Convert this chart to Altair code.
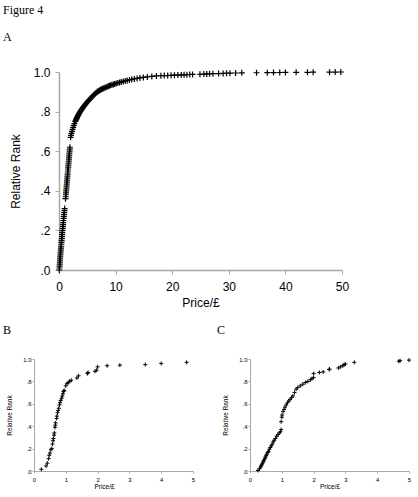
import altair as alt
import pandas as pd

SANS = "Liberation Sans"
SERIF = "Liberation Serif"
AXIS_GREY = "#a8a8a8"
PLUS = "M-1,0L1,0M0,-1L0,1"

panel_labels = ["Figure 4", "A", "B", "C"]
x_title = "Price/£"
y_title = "Relative Rank"

# Panel A: price of every item against its relative rank
a_price = [
    0.05, 0.08, 0.10, 0.13, 0.15, 0.18, 0.20, 0.23, 0.26, 0.29, 0.32,
    0.35, 0.38, 0.41, 0.44, 0.47, 0.50, 0.53, 0.56, 0.59, 0.62,
    0.66, 0.69, 0.72, 0.75, 0.79, 0.82, 0.85, 0.89, 0.93, 0.97, 1.00,
    1.15, 1.18, 1.21, 1.24, 1.27, 1.30, 1.33, 1.36, 1.39, 1.42,
    1.45, 1.48, 1.51, 1.54, 1.57, 1.60, 1.63, 1.66, 1.69, 1.72,
    1.75, 1.78, 1.81, 1.84, 1.87, 1.90, 1.93,
    2.05, 2.12, 2.20, 2.30, 2.40, 2.50, 2.62, 2.75, 2.88,
    2.95, 3.02, 3.10, 3.18, 3.26, 3.35, 3.44, 3.54, 3.64, 3.75,
    3.86, 3.98, 4.10, 4.22, 4.35, 4.48, 4.62, 4.76, 4.90, 5.05,
    5.20, 5.36, 5.52, 5.68, 5.85, 6.02, 6.20, 6.38, 6.56, 6.75,
    6.90, 7.05, 7.20, 7.35, 7.50, 7.70, 7.90, 8.10, 8.30, 8.50,
    8.70, 8.90, 9.10, 9.35, 9.60, 9.85, 10.10, 10.40, 10.70, 11.00,
    11.35, 11.70, 12.05, 12.45, 12.85, 13.30, 13.80, 14.30, 14.90, 15.60,
    16.40, 17.20,
    18.0, 18.6, 19.2, 19.8, 20.4, 21.0, 21.6, 22.1, 22.6, 23.1, 23.6,
    24.9, 25.6, 26.1, 26.6, 27.2, 28.2, 29.0, 29.6, 30.2, 31.2, 32.3,
    34.9, 36.8, 37.9, 39.0, 40.0, 41.9, 43.9, 44.9, 47.8, 48.8, 49.8,
]
a_rank = [
    0.00, 0.01, 0.02, 0.03, 0.04, 0.05, 0.06, 0.07, 0.08, 0.09, 0.10,
    0.11, 0.12, 0.13, 0.14, 0.15, 0.16, 0.17, 0.18, 0.19, 0.20,
    0.21, 0.22, 0.23, 0.24, 0.25, 0.26, 0.27, 0.28, 0.29, 0.30, 0.31,
    0.36, 0.37, 0.38, 0.39, 0.40, 0.41, 0.42, 0.43, 0.44, 0.45,
    0.46, 0.47, 0.48, 0.49, 0.50, 0.51, 0.52, 0.53, 0.54, 0.55,
    0.56, 0.57, 0.58, 0.59, 0.60, 0.61, 0.62,
    0.67, 0.68, 0.69, 0.70, 0.71, 0.72, 0.73, 0.74, 0.75,
    0.755, 0.760, 0.765, 0.770, 0.775, 0.780, 0.785, 0.790, 0.795, 0.800,
    0.805, 0.810, 0.815, 0.820, 0.825, 0.830, 0.835, 0.840, 0.845, 0.850,
    0.855, 0.860, 0.865, 0.870, 0.875, 0.880, 0.885, 0.890, 0.895, 0.900,
    0.9025, 0.905, 0.9075, 0.910, 0.9125, 0.915, 0.9175, 0.920, 0.9225, 0.925,
    0.9275, 0.930, 0.9325, 0.935, 0.9375, 0.940, 0.9425, 0.945, 0.9475, 0.950,
    0.9525, 0.955, 0.9575, 0.960, 0.9625, 0.965, 0.9675, 0.970, 0.9725, 0.975,
    0.9775, 0.980,
    0.9810, 0.9817, 0.9824, 0.9831, 0.9838, 0.9845, 0.9852, 0.9859, 0.9866, 0.9873, 0.9880,
    0.9887, 0.9894, 0.9901, 0.9908, 0.9915, 0.9922, 0.9929, 0.9936, 0.9943, 0.9950, 0.9957,
    0.9962, 0.9966, 0.9970, 0.9974, 0.9978, 0.9982, 0.9986, 0.9990, 0.9993, 0.9996, 1.0000,
]

# Panel B
b_price = [
    0.23, 0.38, 0.42, 0.46, 0.48, 0.50, 0.53, 0.56, 0.58, 0.60,
    0.61, 0.63, 0.64, 0.66, 0.67, 0.68, 0.71, 0.72, 0.74, 0.76,
    0.78, 0.80, 0.82, 0.84, 0.87, 0.89, 0.91, 0.93, 0.95, 1.00,
    1.04, 1.08, 1.12, 1.17, 1.35, 1.40, 1.68, 1.70, 1.92, 1.97,
    2.00, 2.30, 2.70, 3.50, 4.00, 4.80,
]
b_rank = [
    0.015, 0.045, 0.07, 0.11, 0.14, 0.16, 0.19, 0.20, 0.24, 0.27,
    0.29, 0.32, 0.34, 0.39, 0.41, 0.43, 0.47, 0.49, 0.52, 0.54,
    0.56, 0.59, 0.61, 0.63, 0.65, 0.67, 0.69, 0.71, 0.72, 0.76,
    0.78, 0.79, 0.80, 0.81, 0.83, 0.85, 0.87, 0.88, 0.89, 0.90,
    0.93, 0.94, 0.945, 0.95, 0.96, 0.97,
]

# Panel C
c_price = [
    0.25, 0.30, 0.33, 0.35, 0.37, 0.39, 0.41, 0.43, 0.45, 0.47,
    0.49, 0.51, 0.53, 0.56, 0.58, 0.61, 0.64, 0.67, 0.70, 0.73,
    0.76, 0.80, 0.84, 0.88, 0.92, 0.96, 0.98, 0.98, 1.00, 1.01,
    1.04, 1.07, 1.10, 1.14, 1.18, 1.22, 1.26, 1.31, 1.35, 1.40,
    1.45, 1.50, 1.58, 1.66, 1.74, 1.82, 1.90, 1.95, 2.00, 2.00,
    2.18, 2.30, 2.49, 2.50, 2.78, 2.85, 2.92, 2.96, 3.00, 3.28,
    4.68, 4.72, 5.00,
]
c_rank = [
    0.005, 0.02, 0.035, 0.045, 0.055, 0.065, 0.08, 0.09, 0.10, 0.115,
    0.125, 0.14, 0.15, 0.165, 0.175, 0.195, 0.21, 0.225, 0.24, 0.26,
    0.275, 0.29, 0.31, 0.325, 0.34, 0.35, 0.37, 0.44, 0.48, 0.50,
    0.53, 0.55, 0.57, 0.59, 0.61, 0.625, 0.64, 0.655, 0.67, 0.70,
    0.73, 0.745, 0.76, 0.775, 0.79, 0.80, 0.815, 0.825, 0.835, 0.87,
    0.88, 0.885, 0.905, 0.91, 0.92, 0.93, 0.94, 0.95, 0.955, 0.97,
    0.98, 0.985, 0.99,
]

assert len(a_price) == len(a_rank)
assert len(b_price) == len(b_rank)
assert len(c_price) == len(c_rank)

rank_ticks = [0, 0.2, 0.4, 0.6, 0.8, 1.0]
rank_labels = "replace(format(datum.value, '.1f'), '0.', '.')"


def label(text, x, y):
    return alt.Chart(pd.DataFrame({"t": [text]})).mark_text(
        align="left", baseline="alphabetic", font=SERIF, fontSize=12, color="black"
    ).encode(x=alt.value(x), y=alt.value(y), text="t:N")


def scatter(price, rank, xmax, xstep, w, h, big, x_title_x=None):
    df = pd.DataFrame({"price": price, "rank": rank})
    fs = 12 if big else 6
    tfs = 12 if big else 6.5
    x_axis = dict(
        values=list(range(0, xmax + 1, xstep)), title=x_title,
        labelFontSize=fs, titleFontSize=tfs,
        tickSize=4 if big else 2, labelPadding=7 if big else 3,
        titlePadding=5 if big else 1,
        domainWidth=1.5 if big else 1,
    )
    if x_title_x is not None:
        x_axis["titleX"] = x_title_x
    y_axis = dict(
        values=rank_ticks, labelExpr=rank_labels, title=y_title,
        labelFontSize=fs, titleFontSize=tfs,
        tickSize=4 if big else 2, labelPadding=5 if big else 1,
        titlePadding=11 if big else 10,
        domainWidth=1.5 if big else 1,
    )
    return alt.Chart(df).mark_point(
        shape=PLUS, size=36 if big else 16, filled=False,
        color="black", strokeWidth=1.2 if big else 1, opacity=1,
    ).encode(
        x=alt.X("price:Q", scale=alt.Scale(domain=[0, xmax], nice=False),
                axis=alt.Axis(**x_axis)),
        y=alt.Y("rank:Q", scale=alt.Scale(domain=[0, 1], nice=False),
                axis=alt.Axis(**y_axis)),
    ).properties(width=w, height=h)


panel_a = alt.layer(
    scatter(a_price, a_rank, 50, 10, 283, 198, True),
    label(panel_labels[0], -56, -58),
    label(panel_labels[1], -56, -31),
)
panel_b = alt.layer(
    scatter(b_price, b_rank, 5, 1, 159, 112, False, x_title_x=70),
    label(panel_labels[2], -31, -25),
)
panel_c = alt.layer(
    scatter(c_price, c_rank, 5, 1, 159, 112, False),
    label(panel_labels[3], -33, -25),
)

spacer = alt.Chart(pd.DataFrame({"s": [0]})).mark_point(opacity=0).properties(
    width=5, height=5
)

top = alt.hconcat(spacer, panel_a, spacing=20, bounds="flush")
bottom = alt.hconcat(panel_b, panel_c, spacing=57, bounds="flush")

# the nested rows report no height in a flush layout, so the gap carries
# panel A's plot height (198) plus the space between the rows (89)
chart = alt.vconcat(top, bottom, spacing=287, bounds="flush").properties(
    padding={"left": 3, "top": 4, "right": 5, "bottom": 5},
    background="white",
).configure_view(stroke=None).configure_axis(
    grid=False,
    domainColor=AXIS_GREY,
    tickColor=AXIS_GREY,
    labelFont=SANS,
    titleFont=SANS,
    labelColor="black",
    titleColor="black",
    titleFontWeight="normal",
    labelFlush=False,
)

chart.save("out.html", embed_options={"renderer": "svg", "actions": False})
